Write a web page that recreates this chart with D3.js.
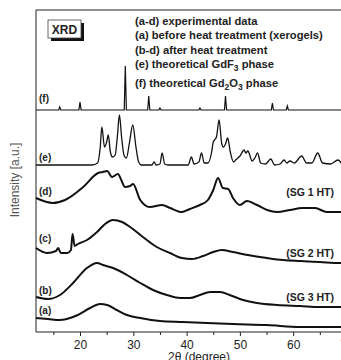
<!DOCTYPE html>
<html>
<head>
<meta charset="utf-8">
<script src="https://cdn.jsdelivr.net/npm/d3@7"></script>
<style>
  body { margin: 0; background: #fff; }
  svg { display: block; font-family: "Liberation Sans", Arial, sans-serif; }
</style>
</head>
<body>
<div id="chart"></div>
<script>
// 2theta (degree) and intensity (a.u., already offset per curve)
const seriesA = [[11.75,14],[14,13],[16.25,12],[18.7,15],[19.6,17],[21.9,24],[23.75,28],[25.1,27],[26.9,22],[28.8,17],[31.3,14],[35,11],[39.3,10],[43.8,9],[48.7,8],[55.1,7],[61.3,5],[68.8,5],[72,5]];
const seriesB = [[11.75,35],[14,33],[16.25,37],[18.7,49],[21.3,64],[23.2,69],[24.3,67],[26.2,64],[28.8,57],[31.3,49],[33.7,42],[36.3,37],[38.8,34],[40.6,34],[42.5,37],[44.4,40],[46.3,40],[48.1,37],[50.6,32],[53.2,29],[57,27],[61.3,26],[65,25],[68.8,25],[72,25]];
const seriesC = [[11.75,84],[13.8,79],[15.5,81],[15.9,84],[16.4,79],[17.6,79],[18.3,82],[18.6,98],[19.0,86],[19.6,88],[21.3,92],[23.2,100],[24.7,108],[26.2,112],[27.9,110],[29.4,105],[31.8,95],[34.4,85],[36.9,79],[39.1,74],[41,73],[43.1,76],[45,80],[46.6,82],[48.7,80],[51.5,77],[55.1,74],[58.1,72],[61.3,71],[65,70],[68.8,69],[72,69]];
const seriesD = [[11.75,134],[14.9,129],[17.2,132],[20.6,145],[23.4,159],[24.3,160],[25.1,161],[26,155],[27.1,158],[27.9,150],[28.4,145],[29.4,146],[29.95,148],[31.3,132],[33.1,125],[35.4,127],[36.9,124],[39.1,120],[40.6,123],[42.5,127],[44,132],[45,142],[45.9,154],[46.8,144],[47.8,143],[48.7,134],[50,127],[51.3,131],[53.2,127],[55.1,122],[57,120],[59.4,122],[61.7,124],[64.1,124],[66.3,120],[68.8,120],[72,120]];
const seriesE = [[11.75,167],[22.25,167],[23.3,169],[23.8,185],[24.1,205],[24.6,185],[25.0,190],[25.3,197],[25.7,180],[26.1,175],[26.6,177],[27.0,195],[27.4,217],[27.8,195],[28.3,176],[28.7,174],[29.3,190],[29.9,207],[30.5,185],[31.0,170],[31.5,167],[33.5,167],[33.9,170],[34.3,167],[35.0,168],[35.4,179],[35.9,168],[36.5,167],[40.3,167],[40.9,175],[41.4,168],[42.3,170],[42.8,179],[43.3,169],[44.0,169],[44.7,180],[45.0,190],[45.6,195],[46.1,212],[46.6,188],[46.9,185],[47.3,188],[47.7,194],[48.2,180],[48.8,170],[49.2,172],[50.0,176],[50.8,182],[51.1,179],[51.5,181],[52.3,171],[52.8,174],[53.3,179],[53.9,169],[54.8,168],[55.8,173],[56.5,167],[57.5,168],[58.3,172],[58.8,169],[59.4,171],[60.2,169],[61.6,176],[62.5,169],[63.5,169],[64.6,179],[65.5,169],[67.0,168],[68.4,172],[69.5,167],[72,167]];
const seriesF = [[11.75,222],[16.0,222],[16.2,225],[16.4,222],[19.8,222],[20.0,230],[20.2,222],[28.3,222],[28.5,266],[28.7,222],[32.7,222],[32.9,236],[33.1,222],[34.8,222],[35.0,224],[35.2,222],[42.3,222],[42.5,224],[42.7,222],[47.1,222],[47.3,236],[47.5,222],[55.9,222],[56.1,229],[56.3,222],[58.7,222],[58.9,226],[59.1,222],[72,222]];

const curveLabels = ['(a)', '(b)', '(c)', '(d)', '(e)', '(f)'];
const sampleLabels = ['(SG 3 HT)', '(SG 2 HT)', '(SG 1 HT)'];
const legendLines = [
  ['(a-d) experimental data'],
  ['(a) before heat treatment (xerogels)'],
  ['(b-d) after heat treatment'],
  ['(e) theoretical GdF', '3', ' phase'],
  ['(f) theoretical Gd', '2', 'O', '3', ' phase']
];
const xTicks = [20, 30, 40, 50, 60, 70];
const xMinorTicks = [15, 25, 35, 45, 55, 65];

const width = 341, height = 360;
const plotLeft = 36, plotTop = 10, plotBottom = 332;

const x = d3.scaleLinear().domain([20, 70]).range([80, 346.5]);
const y = d3.scaleLinear().domain([0, 322]).range([plotBottom, plotTop]);

const svg = d3.select('#chart').append('svg')
  .attr('width', width)
  .attr('height', height);

// frame
const rightEdge = x(72);
svg.append('path')
  .attr('d', `M${rightEdge},${plotTop}H${plotLeft}V${plotBottom}H${rightEdge}`)
  .attr('fill', 'none')
  .attr('stroke', '#222')
  .attr('stroke-width', 1);

// x axis
const xAxis = svg.append('g')
  .attr('transform', `translate(0,${plotBottom})`)
  .call(d3.axisBottom(x).tickValues(xTicks).tickSize(4).tickPadding(4));
xAxis.select('.domain').remove();
xAxis.selectAll('line').attr('stroke', '#222');
xAxis.selectAll('text')
  .attr('font-size', 12)
  .attr('font-family', '"Liberation Sans", Arial, sans-serif')
  .attr('fill', '#222');

svg.append('g')
  .attr('transform', `translate(0,${plotBottom})`)
  .call(d3.axisBottom(x).tickValues(xMinorTicks).tickSize(3).tickFormat(''))
  .call(g => g.select('.domain').remove())
  .selectAll('line').attr('stroke', '#222');

svg.append('text')
  .attr('x', 199)
  .attr('y', 360.5)
  .attr('text-anchor', 'middle')
  .attr('font-size', 12)
  .attr('fill', '#222')
  .text('2θ (degree)');

svg.append('text')
  .attr('transform', 'translate(19,180) rotate(-90)')
  .attr('text-anchor', 'middle')
  .attr('font-size', 12)
  .attr('fill', '#555')
  .text('Intensity [a.u.]');

// curves
const line = d3.line()
  .x(d => x(d[0]))
  .y(d => y(d[1]))
  .curve(d3.curveMonotoneX);
const stick = d3.line()
  .x(d => x(d[0]))
  .y(d => y(d[1]));

const plot = svg.append('g');
[seriesA, seriesB, seriesC, seriesD].forEach(s => {
  plot.append('path')
    .datum(s)
    .attr('d', line)
    .attr('fill', 'none')
    .attr('stroke', '#111')
    .attr('stroke-width', 2)
    .attr('stroke-linejoin', 'round');
});
plot.append('path')
  .datum(seriesE)
  .attr('d', line)
  .attr('fill', 'none')
  .attr('stroke', '#111')
  .attr('stroke-width', 1.3);
plot.append('path')
  .datum(seriesF)
  .attr('d', stick)
  .attr('fill', 'none')
  .attr('stroke', '#111')
  .attr('stroke-width', 1.2);

// curve labels (a)..(f), placed just above each trace start
const labelY = [310, 290, 238, 191, 157, 98];
curveLabels.forEach((t, i) => {
  svg.append('text')
    .attr('x', 39)
    .attr('y', labelY[i] + 3.5)
    .attr('font-size', 10)
    .attr('font-weight', 'bold')
    .attr('fill', '#222')
    .text(t);
});

const sampleY = [297, 253, 192];
sampleLabels.forEach((t, i) => {
  svg.append('text')
    .attr('x', 334)
    .attr('y', sampleY[i] + 4)
    .attr('text-anchor', 'end')
    .attr('font-size', 10.5)
    .attr('font-weight', 'bold')
    .attr('fill', '#222')
    .text(t);
});

// legend block
const legendBase = [24.5, 39, 53.5, 68, 86.5];
legendLines.forEach((parts, i) => {
  const t = svg.append('text')
    .attr('x', 135)
    .attr('y', legendBase[i])
    .attr('font-size', 11.2)
    .attr('font-weight', 'bold')
    .attr('fill', '#222');
  let prevSub = false;
  parts.forEach(p => {
    const sub = /^\d$/.test(p);
    t.append('tspan')
      .attr('font-size', sub ? 8.5 : null)
      .attr('dy', sub ? 3 : (prevSub ? -3 : 0))
      .text(p);
    prevSub = sub;
  });
});

// XRD badge
svg.append('rect')
  .attr('x', 51).attr('y', 23).attr('width', 33).attr('height', 18)
  .attr('fill', '#111');
svg.append('rect')
  .attr('x', 48).attr('y', 20).attr('width', 33).attr('height', 18)
  .attr('fill', '#fff')
  .attr('stroke', '#444')
  .attr('stroke-width', 0.8);
svg.append('text')
  .attr('x', 64.5).attr('y', 33.5)
  .attr('text-anchor', 'middle')
  .attr('font-size', 12)
  .attr('font-weight', 'bold')
  .attr('fill', '#222')
  .text('XRD');
</script>
</body>
</html>
